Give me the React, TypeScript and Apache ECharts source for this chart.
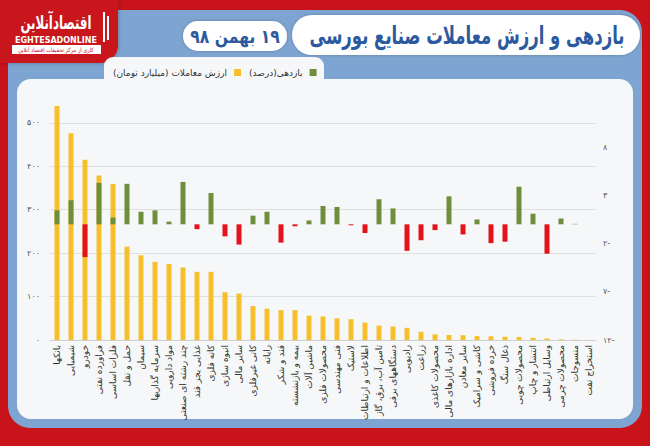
import React, { useEffect, useRef } from "react";
import * as echarts from "echarts";

const categories = [
  "بانکها", "شیمیایی", "خودرو", "فراورده نفتی", "فلزات اساسی", "حمل و نقل", "سیمان",
  "سرمایه گذاریها", "مواد دارویی", "چند رشته ای صنعتی", "غذایی بجز قند", "کانه فلزی",
  "انبوه سازی", "سایر مالی", "کانی غیرفلزی", "رایانه", "قند و شکر", "بیمه و بازنشسته",
  "ماشین آلات", "محصولات فلزی", "فنی مهندسی", "لاستیک", "اطلاعات و ارتباطات",
  "تامین آب، برق، گاز", "دستگاههای برقی", "رادیویی", "زراعت", "محصولات کاغذی",
  "اداره بازارهای مالی", "سایر معادن", "کاشی و سرامیک", "خرده فروشی", "ذغال سنگ",
  "محصولات چوبی", "انتشار و چاپ", "وسایل ارتباطی", "محصولات چرمی", "منسوجات", "استخراج نفت",
];

// ارزش معاملات (میلیارد تومان)
const tradeValue = [
  539, 476, 415, 379, 359, 215, 195, 180, 175, 167, 157, 157, 110, 107, 78, 72, 69, 69, 56, 54,
  50, 48, 40, 33, 31, 28, 19, 13, 11.5, 11, 9, 8.5, 7.6, 7, 5, 3.5, 1.5, 0.8, 0,
];

// بازدهی (درصد)
const returns = [
  1.45, 2.5, -3.4, 4.3, 0.7, 4.2, 1.3, 1.45, 0.28, 4.4, -0.5, 3.25, -1.25, -2.1, 0.9, 1.3, -1.9,
  -0.2, 0.4, 1.9, 1.8, -0.1, -0.9, 2.6, 1.65, -2.75, -1.65, -0.6, 2.9, -1.05, 0.5, -1.95, -1.8,
  3.9, 1.1, -3.05, 0.6, 0.05, 0,
];

const leftTicks = { min: 0, max: 555, interval: 100 };
const rightTicks = { min: -12, max: 13, interval: 5 };

const TITLE = "بازدهی و ارزش معاملات صنایع بورسی";
const DATE = "\u200F۱۹ بهمن ۹۸";
const LEGEND_VALUE = "ارزش معاملات (میلیارد تومان)\u200F";
const LEGEND_RETURN = "بازدهی(درصد)\u200F";

const FA = "۰۱۲۳۴۵۶۷۸۹";
const toFa = (n: number) => String(n).replace(/[0-9]/g, (d) => FA[+d]);

const YELLOW = "#F6C02C";
const GREEN = "#6E8E3B";
const RED = "#E3131B";
const BLUE_TEXT = "#2D5A9E";
const FONT = "DejaVu Sans";

export default function App() {
  const ref = useRef<HTMLDivElement>(null);
  useEffect(() => {
    if (!ref.current) return;
    const chart = echarts.init(ref.current, undefined, { renderer: "svg" });
    chart.setOption({
      animation: false,
      backgroundColor: "#C8131B",
      textStyle: { fontFamily: FONT },
      graphic: [
        { type: "rect", z: -10, shape: { x: 8, y: 10, width: 634, height: 418, r: 22 }, style: { fill: "#7EA4D1" } },
        { type: "rect", z: -9, shape: { x: 0, y: 0, width: 118, height: 63, r: [0, 0, 18, 0] }, style: { fill: "#C8131B", shadowBlur: 4, shadowColor: "rgba(0,0,0,0.3)" } },
        { type: "rect", z: -8, shape: { x: 17, y: 79, width: 616, height: 340, r: 14 }, style: { fill: "#F6F7F8" } },
        { type: "rect", z: -8, shape: { x: 104, y: 57, width: 220, height: 30, r: 9 }, style: { fill: "#F6F7F8" } },
        { type: "rect", z: -8, shape: { x: 292, y: 15, width: 348, height: 40, r: 20 }, style: { fill: "#FFFFFF", shadowBlur: 3, shadowColor: "rgba(0,0,0,0.25)" } },
        { type: "rect", z: -8, shape: { x: 183, y: 21, width: 104, height: 30, r: 15 }, style: { fill: "#FFFFFF", shadowBlur: 3, shadowColor: "rgba(0,0,0,0.25)" } },
        { type: "text", z: 5, x: 467, y: 35, scaleX: 0.66, style: { text: TITLE, x: 0, y: 0, align: "center", verticalAlign: "middle", fill: BLUE_TEXT, font: `bold 25px '${FONT}'` } },
        { type: "text", z: 5, x: 235, y: 36, scaleX: 0.82, style: { text: DATE, x: 0, y: 0, align: "center", verticalAlign: "middle", fill: BLUE_TEXT, font: `bold 19px '${FONT}'` } },
        // logo
        { type: "text", z: 5, x: 56, y: 22, scaleX: 0.62, style: { text: "اقتصادآنلاین", x: 0, y: 0, align: "center", verticalAlign: "middle", fill: "#FFFFFF", font: `bold 19px '${FONT}'` } },
        { type: "rect", z: 5, shape: { x: 103, y: 12, width: 2, height: 30 }, style: { fill: "#FFFFFF" } },
        { type: "rect", z: 5, shape: { x: 107, y: 16, width: 2, height: 24 }, style: { fill: "#FFFFFF" } },
        { type: "text", z: 5, style: { text: "EGHTESADONLINE", x: 56, y: 40, align: "center", verticalAlign: "middle", fill: "#FFFFFF", font: `bold 8px '${FONT}'` } },
        { type: "rect", z: 5, shape: { x: 12, y: 45, width: 89, height: 9 }, style: { fill: "#FFFFFF" } },
        { type: "text", z: 6, x: 56, y: 49.5, scaleX: 0.85, style: { text: "کاری از مرکز تحقیقات اقتصاد آنلاین", x: 0, y: 0, align: "center", verticalAlign: "middle", fill: "#C8131B", font: `6px '${FONT}'` } },
      ],
      legend: {
        left: 108,
        top: 63,
        align: "right",
        itemWidth: 7,
        itemHeight: 7,
        itemGap: 8,
        icon: "rect",
        textStyle: { fontSize: 9, color: "#333", fontFamily: FONT, padding: [0, 2, 0, 0] },
        data: [LEGEND_VALUE, LEGEND_RETURN],
      },
      grid: { left: 50, right: 54, top: 99, bottom: 106 },
      xAxis: {
        type: "category",
        data: categories,
        axisTick: { show: false },
        axisLine: { lineStyle: { color: "#D0D0D0" } },
        axisLabel: { interval: 0, rotate: 90, fontSize: 9, color: "#333", margin: 5, fontFamily: FONT },
      },
      yAxis: [
        {
          type: "value",
          ...leftTicks,
          axisLabel: { fontSize: 8, color: "#555", margin: 10, showMaxLabel: false, formatter: (v: number) => toFa(v) },
          splitLine: { lineStyle: { color: "#E0E0E0" }, showMaxLine: false },
          axisLine: { show: false },
          axisTick: { show: false },
        },
        {
          type: "value",
          ...rightTicks,
          position: "right",
          axisLabel: {
            fontSize: 8,
            color: "#555",
            margin: 7,
            showMaxLabel: false,
            formatter: (v: number) => (v < 0 ? toFa(-v) + "-" : toFa(v)),
          },
          splitLine: { show: false },
          axisLine: { show: false },
          axisTick: { show: false },
        },
      ],
      series: [
        {
          name: LEGEND_VALUE,
          type: "bar",
          yAxisIndex: 0,
          barWidth: 5,
          barGap: "-100%",
          itemStyle: { color: YELLOW },
          data: tradeValue,
        },
        {
          name: LEGEND_RETURN,
          type: "bar",
          yAxisIndex: 1,
          barWidth: 5,
          barGap: "-100%",
          z: 3,
          itemStyle: { color: GREEN },
          data: returns.map((v) => (v < 0 ? { value: v, itemStyle: { color: RED } } : v)),
        },
      ],
    });
    return () => chart.dispose();
  }, []);
  return <div ref={ref} style={{ position: "absolute", left: 0, top: 0, width: 650, height: 446 }} />;
}
